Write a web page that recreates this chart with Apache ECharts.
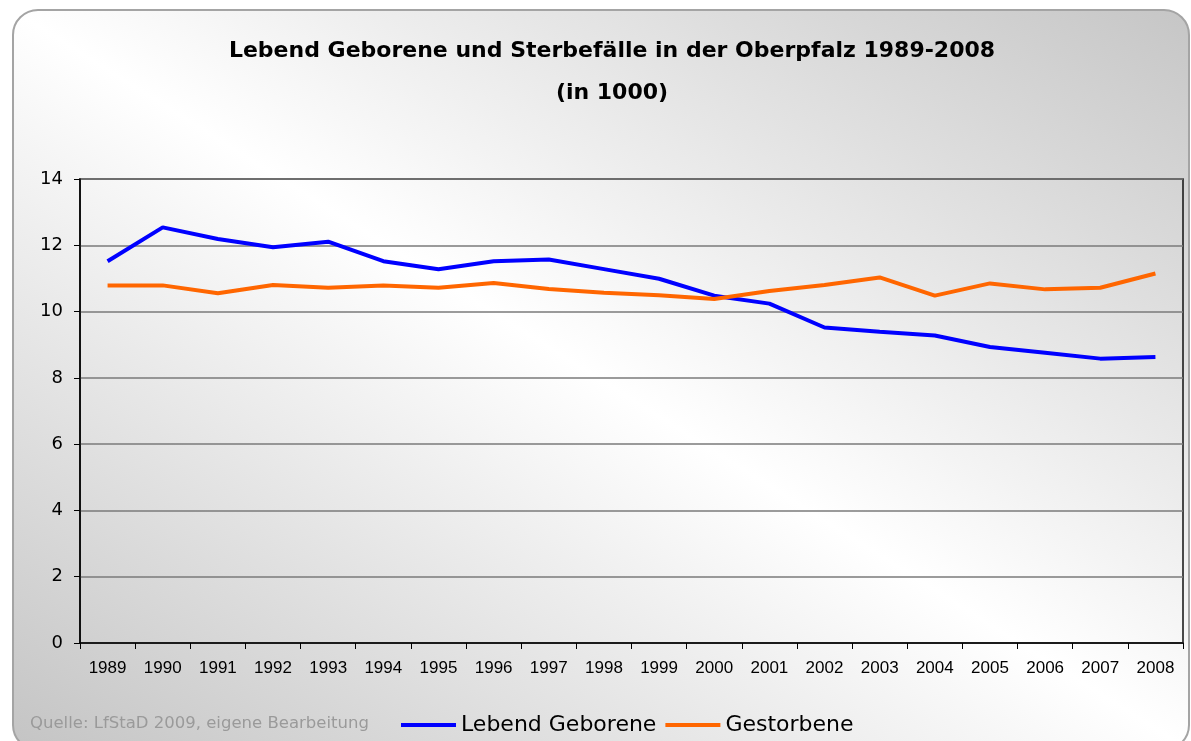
<!DOCTYPE html>
<html>
<head>
<meta charset="utf-8">
<script src="https://cdn.jsdelivr.net/npm/echarts@6/dist/echarts.min.js"></script>
<style>
  html, body { margin: 0; padding: 0; background: #ffffff; }
  #frame {
    position: absolute; left: 12px; top: 9px; width: 1174px; height: 738px;
    border: 2px solid #a4a4a4; border-radius: 26px;
    background: linear-gradient(to top right, #c4c4c4, #ffffff 50%, #c6c6c6);
  }
  #chartContainer { position: absolute; left: 0; top: 0; width: 1191px; height: 741px; }
</style>
</head>
<body>
<div id="frame"></div>
<div id="chartContainer"></div>
<script>
const years = ["1989", "1990", "1991", "1992", "1993", "1994", "1995", "1996", "1997", "1998",
    "1999", "2000", "2001", "2002", "2003", "2004", "2005", "2006", "2007", "2008"];

// Werte in 1000
const geborene = [11.52, 12.54, 12.19, 11.94, 12.11, 11.52, 11.28, 11.52, 11.57, 11.28,
    10.99, 10.48, 10.24, 9.52, 9.39, 9.28, 8.93, 8.76, 8.58, 8.63];
const gestorbene = [10.79, 10.79, 10.55, 10.8, 10.72, 10.79, 10.72, 10.86, 10.68, 10.57,
    10.49, 10.38, 10.62, 10.8, 11.03, 10.48, 10.85, 10.67, 10.72, 11.15];

const yTicks = [0, 2, 4, 6, 8, 10, 12, 14];

window.onload = () => {
    const chart = echarts.init(document.getElementById('chartContainer'));

    const option = {
        backgroundColor: 'transparent',
        animation: false,
        title: {
            text: 'Lebend Geborene und Sterbefälle in der Oberpfalz 1989-2008\n(in 1000)',
            left: 607,
            textAlign: 'center',
            top: 25,
            textStyle: {
                fontFamily: 'DejaVu Sans',
                fontWeight: 'bold',
                fontSize: 22,
                lineHeight: 42,
                color: '#000000'
            }
        },
        legend: {
            data: ['Lebend Geborene', 'Gestorbene'],
            left: 396,
            top: 709,
            icon: 'rect',
            itemWidth: 55,
            itemHeight: 4,
            itemGap: 9,
            textStyle: {
                fontFamily: 'DejaVu Sans',
                fontSize: 22,
                color: '#000000'
            }
        },
        graphic: [
            {
                type: 'text',
                left: 30,
                top: 715,
                style: {
                    text: 'Quelle: LfStaD 2009, eigene Bearbeitung',
                    font: '16.5px "DejaVu Sans"',
                    fill: '#9a9a9a'
                }
            }
        ],
        grid: {
            left: 80,
            right: 8,
            top: 179,
            bottom: 98,
            show: true,
            borderColor: '#111111',
            borderWidth: 1.5,
            backgroundColor: 'transparent'
        },
        xAxis: {
            type: 'category',
            data: years,
            boundaryGap: true,
            axisLine: { lineStyle: { color: '#000000', width: 1.5 } },
            axisTick: { show: true, length: 6, lineStyle: { color: '#000000' } },
            axisLabel: {
                margin: 17,
                fontFamily: 'Liberation Sans',
                fontSize: 17,
                color: '#000000',
                interval: 0
            }
        },
        yAxis: {
            type: 'value',
            min: yTicks[0],
            max: yTicks[yTicks.length - 1],
            interval: 2,
            axisLine: { show: true, lineStyle: { color: '#000000', width: 1.5 } },
            axisTick: { show: true, length: 6, lineStyle: { color: '#000000' } },
            axisLabel: {
                margin: 17,
                fontFamily: 'DejaVu Sans',
                fontSize: 18,
                color: '#000000'
            },
            splitLine: { lineStyle: { color: '#7a7a7a', width: 1.5 } }
        },
        series: [
            {
                name: 'Lebend Geborene',
                type: 'line',
                data: geborene,
                showSymbol: false,
                symbol: 'none',
                itemStyle: { color: '#0000ff' },
                lineStyle: { color: '#0000ff', width: 4 }
            },
            {
                name: 'Gestorbene',
                type: 'line',
                data: gestorbene,
                showSymbol: false,
                symbol: 'none',
                itemStyle: { color: '#ff6600' },
                lineStyle: { color: '#ff6600', width: 4 }
            }
        ]
    };

    chart.setOption(option);
};
</script>
</body>
</html>
